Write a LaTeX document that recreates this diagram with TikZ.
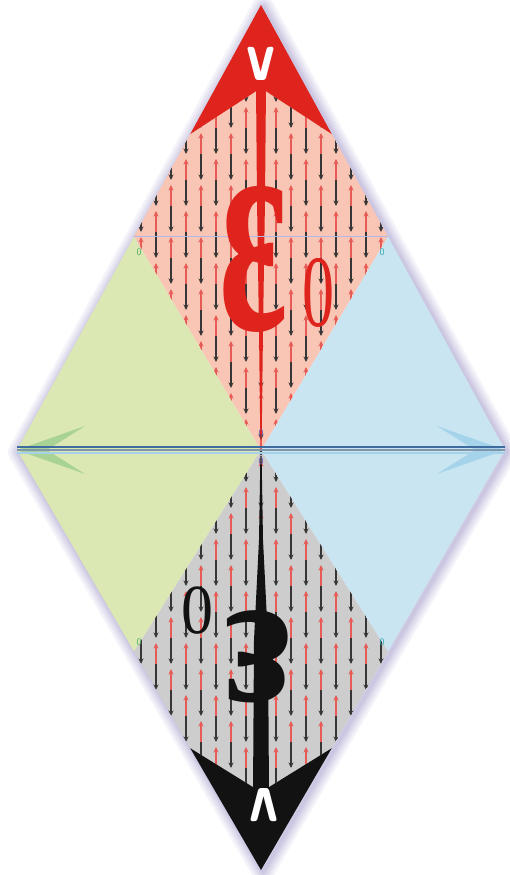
\documentclass[tikz,border=0pt]{standalone}
\usepackage{fontspec}
\usepackage{xcolor}
\usepackage{tikz}
\usetikzlibrary{arrows.meta, calc}
\newfontfamily\glyphfont{Liberation Serif}
\definecolor{ink}{RGB}{18,18,18}
\definecolor{redtip}{RGB}{222,36,28}
\definecolor{pinkzone}{RGB}{249,197,180}
\definecolor{greenzone}{RGB}{219,232,180}
\definecolor{bluezone}{RGB}{202,229,242}
\definecolor{grayzone}{RGB}{205,205,205}
\definecolor{axisdark}{RGB}{62,108,158}
\definecolor{axismid}{RGB}{128,150,170}
\definecolor{axislight}{RGB}{165,210,232}
\definecolor{tipgreen}{RGB}{168,210,150}
\definecolor{tipblue}{RGB}{165,212,234}
\definecolor{halo}{RGB}{140,130,190}
\definecolor{midline}{RGB}{178,182,232}
\definecolor{zerogreen}{RGB}{80,170,100}
\definecolor{zerocyan}{RGB}{50,170,180}
\definecolor{zeropurple}{RGB}{105,85,170}
\tikzset{
  zone/.style      ={draw=none, line join=round},
  fieldup/.style   ={-{Stealth[length=5.5pt, width=5pt]}, line width=1.1pt, color=redtip!75},
  fielddown/.style ={-{Stealth[length=5.5pt, width=5pt]}, line width=1.1pt, color=ink!85},
  glow/.style      ={draw=halo, line join=round, opacity=0.09},
  axisline/.style  ={line width=2pt},
  tiplabel/.style  ={font=\sffamily\bfseries\fontsize{58}{58}\selectfont, text=white, inner sep=0pt,
                     text height=27pt, text depth=0pt},
  epslabel/.style  ={font=\glyphfont\bfseries\fontsize{160}{160}\selectfont, inner sep=0pt,
                     text height=76pt, text depth=1pt},
  sublabel/.style  ={font=\glyphfont\fontsize{64}{64}\selectfont, inner sep=0pt,
                     text height=44pt, text depth=1pt},
  zerolabel/.style ={font=\sffamily\fontsize{10}{10}\selectfont, inner sep=0pt},
}

\begin{document}
\begin{tikzpicture}[x=1pt, y=-1pt]
\useasboundingbox (0,0) rectangle (509,875);
\fill[white] (0,0) rectangle (509,875);
% outer diamond
\coordinate (T) at (261,5);
\coordinate (B) at (261,870);
\coordinate (L) at (17,450);
\coordinate (R) at (505,450);
\coordinate (C) at (261,450);
\coordinate (tl) at ($(T)!0.52!(L)$);
\coordinate (tr) at ($(T)!0.52!(R)$);
\coordinate (bl) at ($(B)!0.52!(L)$);
\coordinate (br) at ($(B)!0.52!(R)$);
% arrowhead corners and notches
\coordinate (tlc) at ($(T)!0.29!(L)$);
\coordinate (trc) at ($(T)!0.29!(R)$);
\coordinate (tn) at (261,88);
\coordinate (blc) at ($(B)!0.29!(L)$);
\coordinate (brc) at ($(B)!0.29!(R)$);
\coordinate (bn) at (261,792);

\foreach \w in {22,17,13,9,6,3} \draw[glow, line width=\w pt, transform canvas={xshift=2pt, yshift=-2pt}] (T) -- (R) -- (B) -- (L) -- cycle;

\fill[zone, greenzone] (tl) -- (L) -- (bl) -- (C) -- cycle;
\fill[zone, bluezone] (tr) -- (R) -- (br) -- (C) -- cycle;
\fill[zone, pinkzone] (tl) -- (tlc) -- (tn) -- (trc) -- (tr) -- (C) -- cycle;
\fill[zone, grayzone] (bl) -- (blc) -- (bn) -- (brc) -- (br) -- (C) -- cycle;

% field arrows
\begin{scope}
  \clip (tl) -- (tlc) -- (tn) -- (trc) -- (tr) -- (C) -- cycle;
  \foreach \k in {-8,...,8} {
    \pgfmathsetmacro\xx{261+15*\k}
    \pgfmathsetmacro\oo{26*mod(abs(\k),2)}
    \foreach \j in {0,...,8} {
      \pgfmathsetmacro\yy{50+52*\j+\oo}
      \draw[fielddown] (\xx,\yy) -- (\xx,\yy+26);
      \draw[fieldup] (\xx,\yy) -- (\xx,\yy-21);
    }
  }
\end{scope}
\begin{scope}
  \clip (bl) -- (blc) -- (bn) -- (brc) -- (br) -- (C) -- cycle;
  \foreach \k in {-8,...,8} {
    \pgfmathsetmacro\xx{261+15*\k}
    \pgfmathsetmacro\oo{26*mod(abs(\k),2)}
    \foreach \j in {0,...,8} {
      \pgfmathsetmacro\yy{430+52*\j+\oo}
      \draw[fielddown] (\xx,\yy) -- (\xx,\yy+26);
      \draw[fieldup] (\xx,\yy) -- (\xx,\yy-21);
    }
  }
\end{scope}

% spikes
\fill[redtip] (256,85) -- (266,85) -- (265,200) -- (263,330) -- (261.6,446) -- (260.4,446)
  -- (259,330) -- (257,200) -- cycle;
\fill[ink] (260.4,456) -- (261.6,456) -- (263,540) -- (268,640) -- (269,795) -- (253,795)
  -- (254,640) -- (259,540) -- cycle;
\fill[redtip] (T) -- (trc) -- (tn) -- (tlc) -- cycle;
\fill[ink] (B) -- (brc) -- (bn) -- (blc) -- cycle;

\draw[midline, line width=1.5pt] (tl) -- (tr);

% horizontal axis
\draw[axisline, axismid, {Stealth[length=68pt, width=48pt, inset=38pt, color=tipgreen]}-{Stealth[length=68pt, width=48pt, inset=38pt, color=tipblue]}] (L) -- (R);
\draw[axisline, axismid] (L) -- (R);
\draw[axisline, axisdark, transform canvas={yshift=3.5pt}] (L) -- (R);
\draw[axisline, axislight, transform canvas={yshift=-3pt}] (L) -- (R);

% labels
\node[tiplabel, yscale=1.25] (vtop) at (261,64) {v};
\node[tiplabel, yscale=1.25, rotate=180] (vbot) at (264,805) {v};
\node[epslabel, text=redtip, yscale=1.9] (epstop) at (254,258) {ε};
\node[sublabel, text=redtip, yscale=1.6] (subtop) at (318,292) {0};
\node[epslabel, text=ink, yscale=1.2, rotate=180] (epsbot) at (258,657) {ε};
\node[sublabel, text=ink, yscale=1.1, rotate=180] (subbot) at (197,611) {0};
\node[zerolabel, text=zerogreen] (ztl) at (139,252) {0};
\node[zerolabel, text=zerocyan] (ztr) at (382,252) {0};
\node[zerolabel, text=zerogreen] (zbl) at (139,642) {0};
\node[zerolabel, text=zerocyan] (zbr) at (382,642) {0};
\node[zerolabel, text=zeropurple] (zct) at (261,433) {0};
\node[zerolabel, text=zeropurple] (zcb) at (261,461) {0};
\end{tikzpicture}
\end{document}
